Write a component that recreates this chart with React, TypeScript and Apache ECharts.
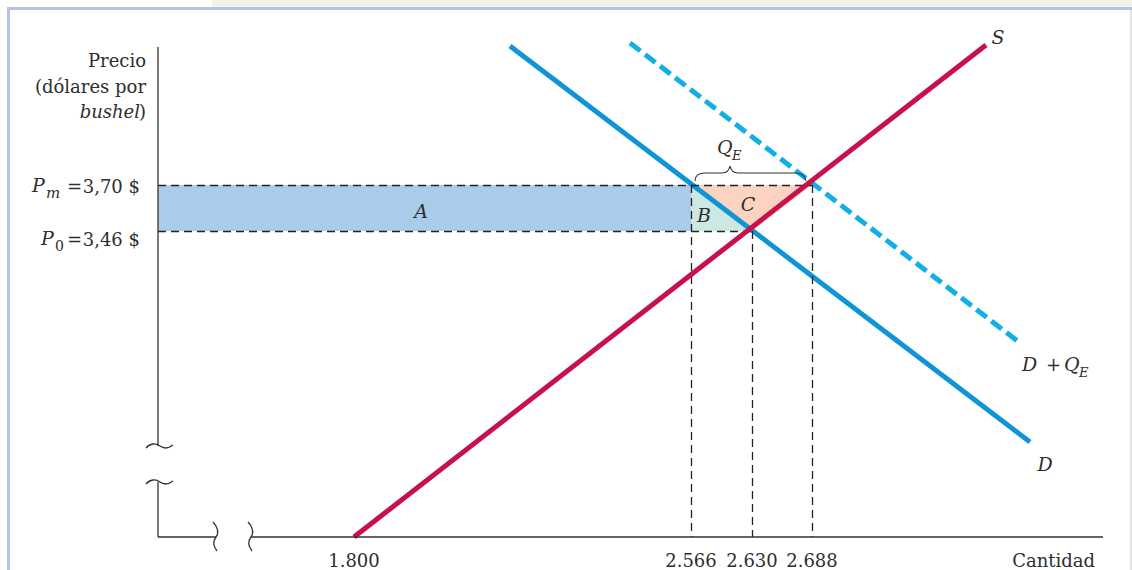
import React, { useEffect, useRef } from "react";
import * as echarts from "echarts";

// ---- data (schematic diagram: quantity axis is broken, positions are schematic units) ----
const quantityTicks = ["1.800", "2.566", "2.630", "2.688"];
const quantityAt = [196, 533, 594, 654];
const P0 = 3.46;
const PM = 3.7;
const Y_MIN = 1.864;
const Y_MAX = 4.425;
const X_MAX = 945;

const supplyX = [196, 828];
const supplyY = [1.864, 4.43];
const demandX = [352, 872];
const demandY = [4.425, 2.359];
const demandPlusX = [472, 862];
const demandPlusY = [4.441, 2.876];

const FONT = '"DejaVu Serif", "Liberation Serif", serif';
const TXT = "#2e2e2e";

let registered = false;
function registerShapes() {
  if (registered) return;
  registered = true;
  echarts.graphic.registerShape(
    "brace",
    echarts.graphic.extendPath(
      "M695,181 C695,175 699,173 705,173 L722,173 C727,173 729,171 730,166 C731,171 733,173 738,173 L795,173 C801,173 805,175 806,181",
      {}
    )
  );
  echarts.graphic.registerShape(
    "tildeH1",
    echarts.graphic.extendPath("M146,448 C150,443 156,443 160,446 C164,449 169,448 173,445", {})
  );
  echarts.graphic.registerShape(
    "tildeH2",
    echarts.graphic.extendPath("M146,484 C150,479 156,479 160,482 C164,485 169,484 173,481", {})
  );
  echarts.graphic.registerShape(
    "tildeV1",
    echarts.graphic.extendPath("M213,522 C218,527 219,533 216,537 C213,541 213,546 217,551", {})
  );
  echarts.graphic.registerShape(
    "tildeV2",
    echarts.graphic.extendPath("M248,522 C253,527 254,533 251,537 C248,541 248,546 252,551", {})
  );
}

function txt(text: string, x: number, y: number, opts: any = {}) {
  return {
    type: "text",
    x,
    y,
    z: 50,
    style: {
      text,
      fill: TXT,
      fontFamily: FONT,
      fontSize: opts.size || 18,
      fontStyle: opts.italic ? "italic" : "normal",
      align: opts.align || "left",
      verticalAlign: "middle",
    },
  };
}

export default function App() {
  const ref = useRef<HTMLDivElement>(null);
  useEffect(() => {
    document.body.style.margin = "0";
    registerShapes();
    const chart = echarts.init(ref.current!, null, { renderer: "svg" });

    const polygons = [
      { pts: [[0, P0], [quantityAt[1], P0], [quantityAt[1], PM], [0, PM]], color: "#aacbea" },
      { pts: [[quantityAt[1], PM], [quantityAt[1], P0], [quantityAt[2], P0]], color: "#cde8e3" },
      { pts: [[quantityAt[1], PM], [quantityAt[3], PM], [quantityAt[2], P0]], color: "#fbd3c0" },
    ];

    const stroke = { stroke: "#333", lineWidth: 1.3, fill: null };

    const option: any = {
      animation: false,
      backgroundColor: "#ffffff",
      grid: { left: 158, top: 46, right: 29, bottom: 33 },
      xAxis: {
        type: "value",
        min: 0,
        max: X_MAX,
        axisLine: { show: false },
        axisTick: { show: false },
        splitLine: { show: false },
        axisLabel: {
          customValues: quantityAt,
          formatter: (v: number) => {
            const i = quantityAt.indexOf(v);
            return i >= 0 ? quantityTicks[i] : "";
          },
          color: TXT,
          fontFamily: FONT,
          fontSize: 18,
          margin: 14,
        },
      },
      yAxis: {
        type: "value",
        min: Y_MIN,
        max: Y_MAX,
        axisLine: { show: false },
        axisTick: { show: false },
        splitLine: { show: false },
        axisLabel: { show: false },
      },
      series: [
        {
          type: "custom",
          z: 1,
          silent: true,
          data: polygons.map((p) => p.pts[0]),
          renderItem: (params: any, api: any) => {
            const p = polygons[params.dataIndex];
            return {
              type: "polygon",
              shape: { points: p.pts.map((pt) => api.coord(pt)) },
              style: { fill: p.color },
            };
          },
        },
        {
          type: "line",
          z: 2,
          data: [],
          markLine: {
            silent: true,
            symbol: "none",
            label: { show: false },
            lineStyle: { color: "#222", width: 1.3, type: [8, 5] },
            data: [
              [{ coord: [0, PM] }, { coord: [quantityAt[3], PM] }],
              [{ coord: [0, P0] }, { coord: [quantityAt[2], P0] }],
              [{ coord: [quantityAt[1], PM] }, { coord: [quantityAt[1], Y_MIN] }],
              [{ coord: [quantityAt[2], P0] }, { coord: [quantityAt[2], Y_MIN] }],
              [{ coord: [quantityAt[3], PM] }, { coord: [quantityAt[3], Y_MIN] }],
            ],
          },
        },
        {
          name: "D + QE",
          type: "line",
          z: 3,
          clip: false,
          symbol: "none",
          data: demandPlusX.map((x, i) => [x, demandPlusY[i]]),
          lineStyle: { color: "#12aee6", width: 5, type: [13, 6], cap: "butt" },
        },
        {
          name: "D",
          type: "line",
          z: 4,
          clip: false,
          symbol: "none",
          data: demandX.map((x, i) => [x, demandY[i]]),
          lineStyle: { color: "#0f95d6", width: 5 },
        },
        {
          name: "S",
          type: "line",
          z: 5,
          clip: false,
          symbol: "none",
          data: supplyX.map((x, i) => [x, supplyY[i]]),
          lineStyle: { color: "#c8104a", width: 5 },
        },
      ],
      graphic: [
        // page decorations
        { type: "rect", z: 0, shape: { x: 212, y: 0, width: 920, height: 7 }, style: { fill: "#f4f1ea" } },
        { type: "rect", z: 0, shape: { x: 7, y: 7, width: 1125, height: 3 }, style: { fill: "#b3c5e6" } },
        { type: "rect", z: 0, shape: { x: 7, y: 7, width: 3, height: 563 }, style: { fill: "#b3c5e6" } },
        { type: "rect", z: 0, shape: { x: 1130, y: 10, width: 2, height: 560 }, style: { fill: "#e4e4e4" } },
        // axes with breaks
        { type: "line", z: 40, shape: { x1: 158, y1: 47, x2: 158, y2: 446 }, style: { stroke: "#333", lineWidth: 1.3 } },
        { type: "line", z: 40, shape: { x1: 158, y1: 482, x2: 158, y2: 537 }, style: { stroke: "#333", lineWidth: 1.3 } },
        { type: "line", z: 40, shape: { x1: 158, y1: 537, x2: 216, y2: 537 }, style: { stroke: "#333", lineWidth: 1.3 } },
        { type: "line", z: 40, shape: { x1: 251, y1: 537, x2: 1103, y2: 537 }, style: { stroke: "#333", lineWidth: 1.3 } },
        { type: "tildeH1", z: 40, style: stroke },
        { type: "tildeH2", z: 40, style: stroke },
        { type: "tildeV1", z: 40, style: stroke },
        { type: "tildeV2", z: 40, style: stroke },
        { type: "brace", z: 40, style: { stroke: "#333", lineWidth: 1.2, fill: null } },
        // y-axis title
        txt("Precio", 146, 60, { align: "right" }),
        txt("(dólares por", 146, 86, { align: "right" }),
        txt(")", 146, 111, { align: "right" }),
        txt("bushel", 140, 111, { align: "right", italic: true }),
        // price labels
        txt("P", 32, 185, { italic: true, size: 19 }),
        txt("m", 46, 193, { italic: true, size: 15 }),
        txt("=", 67, 186, { size: 18 }),
        txt("3,70 $", 140, 186, { align: "right" }),
        txt("P", 41, 238, { italic: true, size: 19 }),
        txt("0", 55, 246, { size: 14 }),
        txt("=", 67, 239, { size: 18 }),
        txt("3,46 $", 140, 239, { align: "right" }),
        // area labels
        txt("A", 421, 211, { italic: true, size: 19, align: "center" }),
        txt("B", 704, 215, { italic: true, size: 19, align: "center" }),
        txt("C", 748, 204, { italic: true, size: 19, align: "center" }),
        txt("Q", 717, 147, { italic: true, size: 19 }),
        txt("E", 732, 155, { italic: true, size: 13 }),
        // curve labels
        txt("S", 998, 37, { italic: true, size: 19, align: "center" }),
        txt("D", 1045, 464, { italic: true, size: 19, align: "center" }),
        txt("D", 1022, 364, { italic: true, size: 19 }),
        txt("+", 1046, 364, { size: 18 }),
        txt("Q", 1064, 364, { italic: true, size: 19 }),
        txt("E", 1079, 372, { italic: true, size: 13 }),
        // x-axis title
        txt("Cantidad", 1095, 560, { align: "right" }),
      ],
    };
    chart.setOption(option);
    return () => chart.dispose();
  }, []);
  return <div ref={ref} style={{ width: 1132, height: 570 }} />;
}
